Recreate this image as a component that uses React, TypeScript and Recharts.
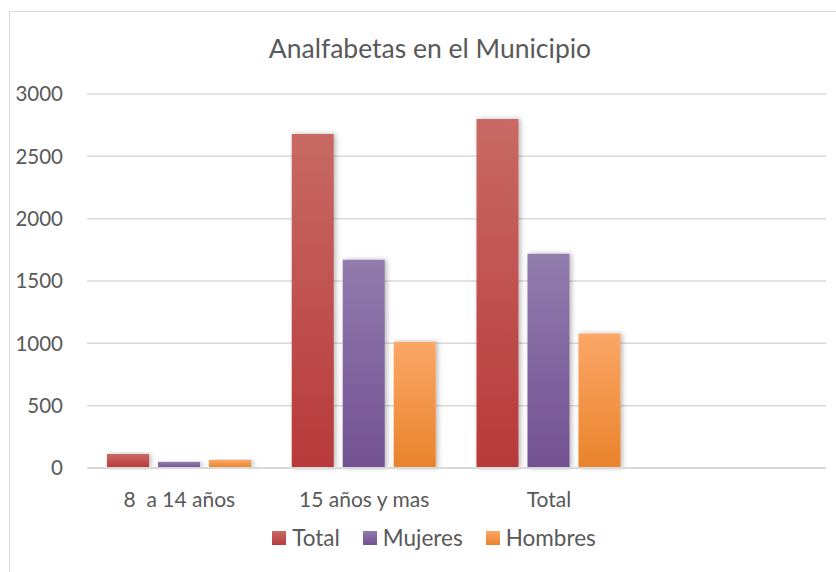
import React from 'react';
import { BarChart, Bar, XAxis, YAxis, CartesianGrid, Legend } from 'recharts';

const categories = ['8  a 14 años', '15 años y mas', 'Total', ''];
const totalValues = [112, 2680, 2800, null];
const mujeresValues = [48, 1670, 1718, null];
const hombresValues = [64, 1012, 1078, null];
const yTicks = [0, 500, 1000, 1500, 2000, 2500, 3000];

const seriesInfo = [
  { key: 'Total', grad: 'gTotal', top: '#c86a64', bottom: '#b8393a' },
  { key: 'Mujeres', grad: 'gMuj', top: '#927bad', bottom: '#725192' },
  { key: 'Hombres', grad: 'gHom', top: '#fba767', bottom: '#e9832b' },
];

const data = categories.map((name, i) => ({
  name,
  Total: totalValues[i],
  Mujeres: mujeresValues[i],
  Hombres: hombresValues[i],
}));

const FONT = 'Lato, "Open Sans", sans-serif';
const GRAY = '#595959';

const XTick = ({ x, y, payload }: any) => (
  <text x={x} y={y} dy="0.71em" textAnchor="middle" fill={GRAY} fontSize={21} fontFamily={FONT} style={{ whiteSpace: 'pre' }}>
    {payload.value}
  </text>
);

const LegendBox = () => (
  <div style={{ display: 'flex', justifyContent: 'center', gap: 23, fontFamily: FONT, fontSize: 22.5, color: GRAY }}>
    {seriesInfo.map((s) => (
      <div key={s.key} style={{ display: 'flex', alignItems: 'center' }}>
        <span
          style={{
            display: 'inline-block',
            width: 14,
            height: 14,
            marginRight: 6,
            background: `linear-gradient(${s.top}, ${s.bottom})`,
          }}
        />
        <span>{s.key}</span>
      </div>
    ))}
  </div>
);

export default function App() {
  return (
    <div style={{ position: 'absolute', left: 0, top: 0, width: 836, height: 572, overflow: 'hidden', background: '#fff' }}>
      <div
        style={{
          position: 'absolute',
          left: 9,
          top: 11,
          width: 900,
          height: 700,
          border: '1.5px solid #d9d9d9',
        }}
      />
      <div
        style={{
          position: 'absolute',
          left: 0,
          top: 32,
          width: 860,
          textAlign: 'center',
          fontFamily: FONT,
          fontSize: 26.5,
          color: GRAY,
        }}
      >
        Analfabetas en el Municipio
      </div>
      <div style={{ position: 'absolute', left: 0, top: 0 }}>
        <BarChart
          width={836}
          height={572}
          data={data}
          margin={{ top: 94, right: 10, bottom: 54, left: 9 }}
          barSize={42}
          barGap={9}
        >
          <defs>
            {seriesInfo.map((s) => (
              <linearGradient key={s.grad} id={s.grad} x1="0" y1="0" x2="0" y2="1">
                <stop offset="0%" stopColor={s.top} />
                <stop offset="100%" stopColor={s.bottom} />
              </linearGradient>
            ))}
            <filter id="shadow" x="-30%" y="-10%" width="160%" height="120%">
              <feDropShadow dx="2" dy="0" stdDeviation="2.5" floodColor="#000" floodOpacity="0.28" />
            </filter>
          </defs>
          <CartesianGrid vertical={false} stroke="#d9d9d9" strokeWidth={1.5} />
          <XAxis
            dataKey="name"
            tick={<XTick />}
            tickLine={false}
            axisLine={{ stroke: '#d9d9d9', strokeWidth: 2 }}
            tickMargin={18}
            interval={0}
            height={50}
          />
          <YAxis
            domain={[0, 3000]}
            ticks={yTicks}
            tick={{ fill: GRAY, fontSize: 20.5, fontFamily: FONT }}
            tickLine={false}
            axisLine={false}
            tickMargin={18}
            width={78}
          />
          <Legend
            layout="horizontal"
            verticalAlign="middle"
            align="center"
            content={<LegendBox />}
            wrapperStyle={{ position: 'absolute', top: 524, left: 16, width: 836 }}
          />
          {seriesInfo.map((s) => (
            <Bar key={s.key} dataKey={s.key} fill={`url(#${s.grad})`} filter="url(#shadow)" isAnimationActive={false} />
          ))}
        </BarChart>
      </div>
    </div>
  );
}
